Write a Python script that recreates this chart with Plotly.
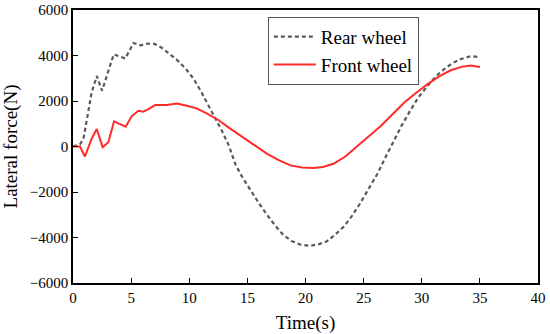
import plotly.graph_objects as go

time_rear = [0, 0.6, 0.9, 1.6, 2.05, 2.5, 3.5, 4.5, 5.2, 5.8, 6.4, 7.0, 7.6, 8.3, 8.9, 9.7, 10.4, 11.0, 11.6,
             12.2, 12.8, 13.4, 14.0, 14.6, 15.3, 16.0, 16.7, 17.4, 18.1, 18.8, 19.6, 20.4, 21.1, 21.8,
             22.5, 23.3, 24.0, 24.7, 25.4, 26.2, 26.9, 27.6, 28.3, 29.0, 29.7, 30.5, 31.2, 31.9, 32.6,
             33.3, 34.2, 35.0]
rear = [0, 100, 335, 2370, 3100, 2450, 4050, 3870, 4550, 4450, 4520, 4510, 4350, 4050, 3830, 3420, 2955,
        2430, 1850, 1300, 700, 50, -820, -1380, -1950, -2500, -3010, -3480, -3890, -4150, -4320, -4370,
        -4300, -4180, -3900, -3520, -3050, -2500, -1880, -1190, -450, 260, 950, 1570, 2150, 2660, 3080,
        3390, 3650, 3830, 3970, 3930]

time_front = [0, 0.6, 1.03, 1.6, 2.04, 2.55, 3.04, 3.53, 4.53, 5.05, 5.62, 6.05, 6.49, 7.07, 8.07, 8.94,
              9.8, 10.63, 11.5, 12.5, 13.4, 14.4, 15.5, 16.7, 17.7, 18.7, 19.7, 20.7, 21.5, 22.4, 23.4,
              24.4, 25.4, 26.5, 27.5, 28.5, 29.5, 30.5, 31.5, 32.5, 33.4, 34.2, 35.0]
front = [0, 0, -437, 335, 770, -30, 190, 1105, 870, 1325, 1570, 1530, 1645, 1820, 1820, 1890, 1790, 1675,
         1455, 1165, 830, 480, 80, -320, -600, -830, -920, -945, -900, -760, -450, -30, 430, 915, 1420,
         1935, 2350, 2740, 3080, 3350, 3500, 3565, 3490]

x_ticks = [0, 5, 10, 15, 20, 25, 30, 35, 40]
y_ticks = [-6000, -4000, -2000, 0, 2000, 4000, 6000]

FONT = "Liberation Serif, Times New Roman, serif"

fig = go.Figure()
fig.add_trace(go.Scatter(x=time_rear, y=rear, mode="lines", name="Rear wheel",
                         line=dict(color="#5a5a5a", width=2.2, dash="4px,3px")))
fig.add_trace(go.Scatter(x=time_front, y=front, mode="lines", name="Front wheel",
                         line=dict(color="#ff2a2a", width=2)))

axis_common = dict(showgrid=False, zeroline=False, showline=True, linecolor="black", linewidth=1.5,
                   mirror=True, ticks="inside", ticklen=5, tickwidth=1.2, tickcolor="black",
                   automargin=False,
                   tickfont=dict(family=FONT, size=15, color="black"))

fig.update_xaxes(range=[0, 40], tickvals=x_ticks,
                 title=dict(text="Time(s)", font=dict(family=FONT, size=19, color="black")),
                 **axis_common)
fig.update_yaxes(range=[-6000, 6000], tickvals=y_ticks,
                 title=dict(text="Lateral force(N)", font=dict(family=FONT, size=19, color="black")),
                 **axis_common)

fig.update_layout(
    width=550, height=334,
    margin=dict(l=73, r=12, t=10, b=51),
    plot_bgcolor="white", paper_bgcolor="white",
    font=dict(family=FONT, color="black"),
    legend=dict(x=0.419, y=0.975, xanchor="left", yanchor="top",
                bordercolor="#555555", borderwidth=1, bgcolor="white",
                font=dict(family=FONT, size=19, color="black"),
                tracegroupgap=0, itemwidth=42),
    showlegend=True,
)

fig.write_html("out.html", config={"displayModeBar": False},
               post_script="document.body.style.margin='0';")
